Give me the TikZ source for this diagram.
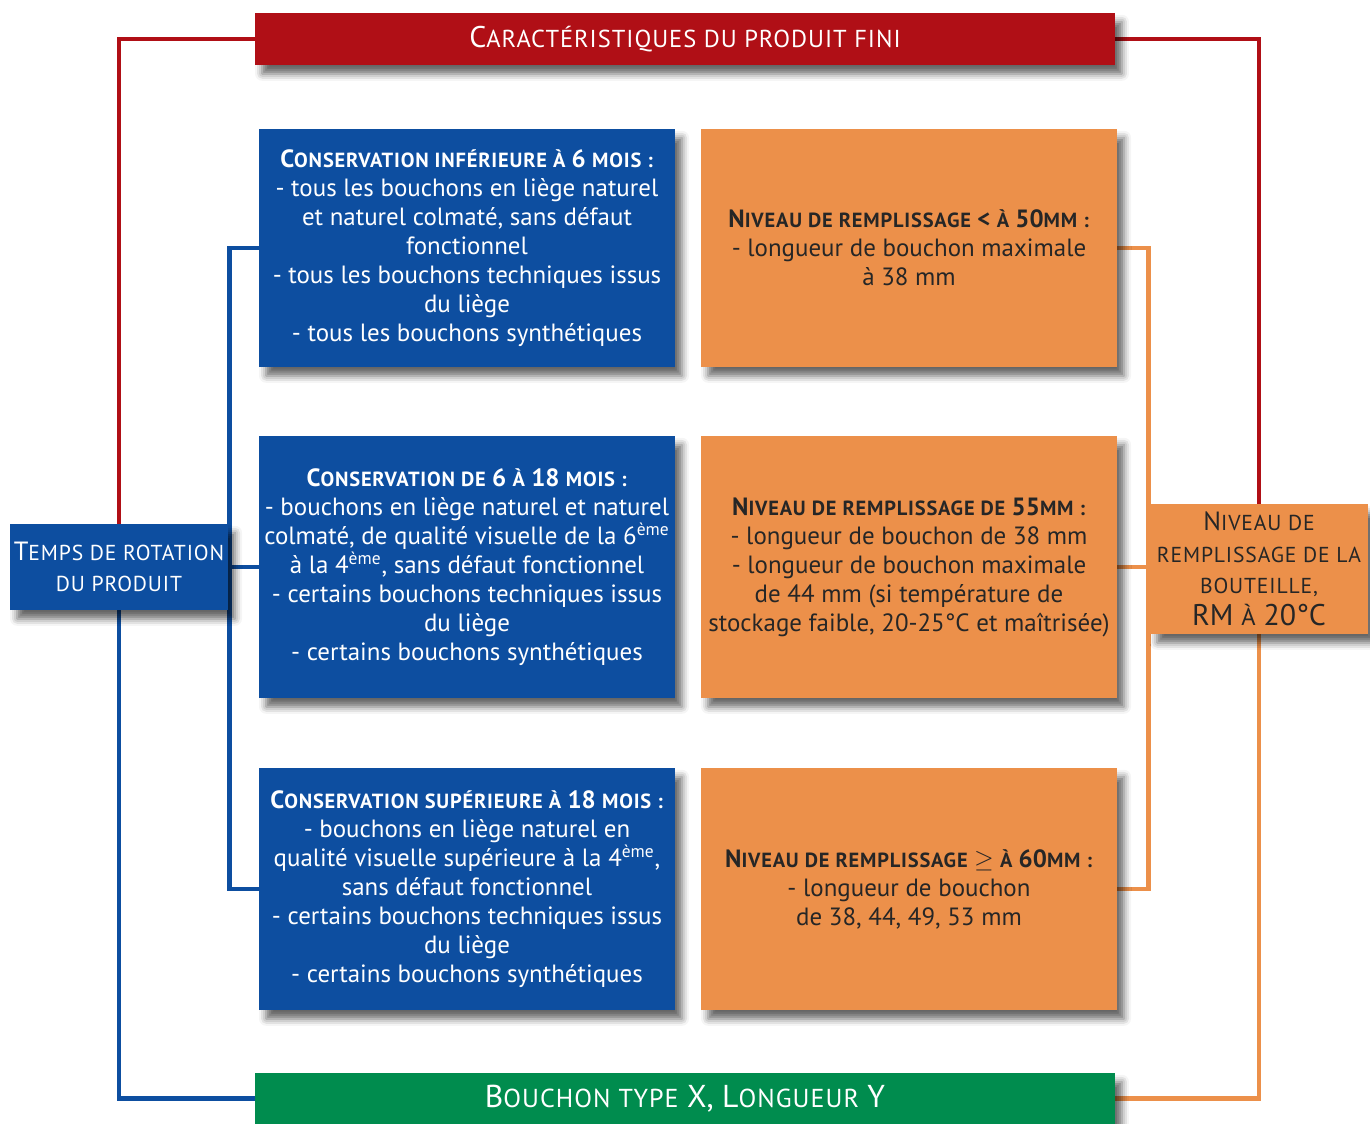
\documentclass[tikz,border=0pt]{standalone}
\usepackage{fontspec}
\setmainfont{PT Sans}
\usepackage{xcolor}
\usetikzlibrary{positioning,shadows.blur,backgrounds}

\definecolor{rougeTitre}{HTML}{B00F16}
\definecolor{bleuBoite}{HTML}{0D4EA0}
\definecolor{orangeBoite}{HTML}{EC904A}
\definecolor{vertBas}{HTML}{008C4E}
\definecolor{texteSombre}{HTML}{262626}

% petites capitales "a la main"
\newcommand{\pc}[1]{{\fontsize{\fpeval{0.82*\csname f@size\endcsname}pt}{\baselineskip}\selectfont\addfontfeature{LetterSpace=4}#1}}

\begin{document}
\begin{tikzpicture}[x=0.02cm, y=-0.02cm,
    boite/.style={rectangle, inner xsep=0pt, inner ysep=2pt, align=center,
      blur shadow={shadow xshift=4pt, shadow yshift=-5pt, shadow blur radius=4pt, shadow opacity=60}},
    boiteBleue/.style={boite, fill=bleuBoite, text=white, minimum width=8.32cm,
      font=\fontsize{14.2pt}{16.5pt}\selectfont},
    boiteOrange/.style={boite, fill=orangeBoite, text=texteSombre, minimum width=8.32cm,
      font=\fontsize{14.2pt}{16.5pt}\selectfont},
    barre/.style={boite, minimum width=17.2cm, text=white, font=\fontsize{18pt}{20pt}\selectfont},
    cote/.style={boite, minimum width=4.36cm, font=\fontsize{15pt}{18pt}\selectfont},
    trait/.style={line width=2.8pt}]
    \useasboundingbox (0,0) rectangle (1370,1124);

    % Barres haut et bas
    \node[barre, fill=rougeTitre, minimum height=1.04cm, font=\fontsize{17pt}{20pt}\selectfont] (titre) at (685,39)
      {C\pc{ARACTÉRISTIQUES DU PRODUIT FINI}};
    \node[barre, fill=vertBas, minimum height=1.02cm] (bouchon) at (685,1098.5)
      {B\pc{OUCHON TYPE} X, L\pc{ONGUEUR} Y};

    % Boites laterales
    \node[cote, fill=bleuBoite, text=white, minimum height=1.72cm] (temps) at (119,567)
      {T\pc{EMPS DE ROTATION}\\\pc{DU PRODUIT}};
    \node[cote, fill=orangeBoite, text=texteSombre, minimum height=2.6cm] (niveau) at (1259,569)
      {N\pc{IVEAU DE}\\\pc{REMPLISSAGE DE LA}\\\pc{BOUTEILLE,}\\{\fontsize{17pt}{18pt}\selectfont RM \pc{À} 20°C}};

    % Conservation
    \node[boiteBleue, minimum height=4.76cm] (cons1) at (467,248)
      {\textbf{C\pc{ONSERVATION INFÉRIEURE À} 6 \pc{MOIS :}}\\
       - tous les bouchons en liège naturel\\
       et naturel colmaté, sans défaut\\
       fonctionnel\\
       - tous les bouchons techniques issus\\
       du liège\\
       - tous les bouchons synthétiques};
    \node[boiteBleue, minimum height=5.24cm] (cons2) at (467,567)
      {\textbf{C\pc{ONSERVATION DE} 6 \pc{À} 18 \pc{MOIS :}}\\
       - bouchons en liège naturel et naturel\\
       colmaté, de qualité visuelle de la 6\textsuperscript{ème}\\
       à la 4\textsuperscript{ème}, sans défaut fonctionnel\\
       - certains bouchons techniques issus\\
       du liège\\
       - certains bouchons synthétiques};
    \node[boiteBleue, minimum height=4.84cm] (cons3) at (467,889)
      {\textbf{C\pc{ONSERVATION SUPÉRIEURE À} 18 \pc{MOIS :}}\\
       - bouchons en liège naturel en\\
       qualité visuelle supérieure à la 4\textsuperscript{ème},\\
       sans défaut fonctionnel\\
       - certains bouchons techniques issus\\
       du liège\\
       - certains bouchons synthétiques};

    % Remplissage
    \node[boiteOrange, minimum height=4.76cm] (rempl1) at (909,248)
      {\textbf{N\pc{IVEAU DE REMPLISSAGE} < \pc{À} 50\pc{MM :}}\\
       - longueur de bouchon maximale\\
       à 38 mm};
    \node[boiteOrange, minimum height=5.24cm] (rempl2) at (909,567)
      {\textbf{N\pc{IVEAU DE REMPLISSAGE DE} 55\pc{MM :}}\\
       - longueur de bouchon de 38 mm\\
       - longueur de bouchon maximale\\
       de 44 mm (si température de\\
       stockage faible, 20-25°C et maîtrisée)};
    \node[boiteOrange, minimum height=4.84cm] (rempl3) at (909,889)
      {\textbf{N\pc{IVEAU DE REMPLISSAGE} $\geq$ \pc{À} 60\pc{MM :}}\\
       - longueur de bouchon\\
       de 38, 44, 49, 53 mm};

    % Liaisons
    \begin{scope}[on background layer]
      \draw[trait, rougeTitre] (titre.west) -| (temps.north);
      \draw[trait, rougeTitre] (titre.east) -| (niveau.north);
      \draw[trait, bleuBoite] (temps.south) |- (bouchon.west);
      \draw[trait, orangeBoite] (niveau.south) |- (bouchon.east);
      \draw[trait, bleuBoite] (temps.east) -- (cons2.west);
      \draw[trait, bleuBoite] (cons1.west) -- ++(-29,0) |- (cons3.west);
      \draw[trait, orangeBoite] (rempl2.east) -- (rempl2.east -| niveau.west);
      \draw[trait, orangeBoite] (rempl1.east) -- ++(31,0) |- (rempl3.east);
    \end{scope}
\end{tikzpicture}
\end{document}
